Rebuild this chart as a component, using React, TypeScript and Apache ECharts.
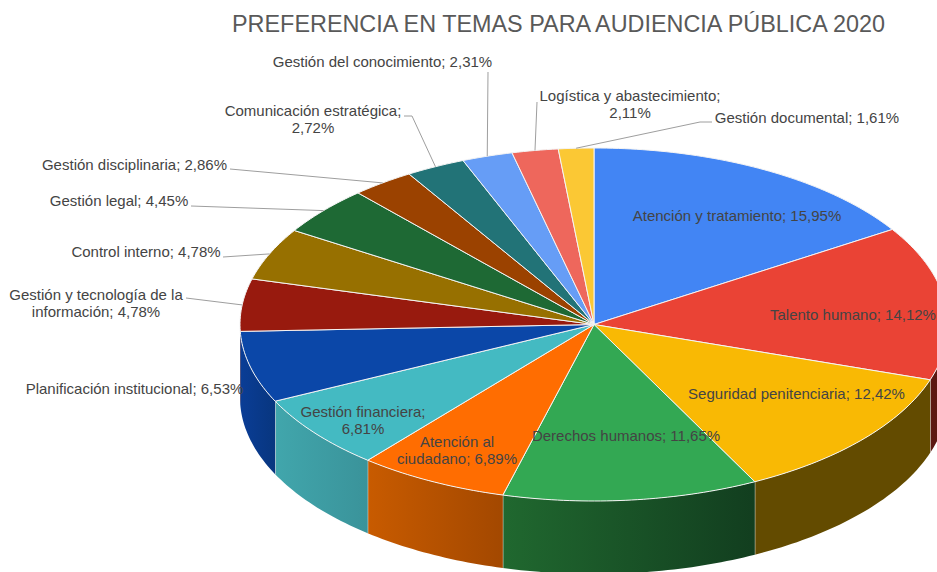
import React, { useEffect, useRef } from "react";
import * as echarts from "echarts";

const names = [
  "Atención y tratamiento",
  "Talento humano",
  "Seguridad penitenciaria",
  "Derechos humanos",
  "Atención al\nciudadano",
  "Gestión financiera",
  "Planificación institucional",
  "Gestión y tecnología de la\ninformación",
  "Control interno",
  "Gestión legal",
  "Gestión disciplinaria",
  "Comunicación estratégica",
  "Gestión del conocimiento",
  "Logística y abastecimiento",
  "Gestión documental",
];
const values = [15.95, 14.12, 12.42, 11.65, 6.89, 6.81, 6.53, 4.78, 4.78, 4.45, 2.86, 2.72, 2.31, 2.11, 1.61];
const separators = [" ", " ", " ", " ", " ", "\n", " ", " ", " ", " ", " ", "\n", " ", "\n", " "];

const topColors = [
  "#4285f4", "#ea4335", "#f9b904", "#33a853", "#ff6d01", "#44bac2", "#0b47a8", "#981a0e",
  "#977000", "#1e6934", "#9b4200", "#227377", "#669df6", "#ee675c", "#fbc834",
];
const sideColors: (string[] | null)[] = [
  ["#20487f", "#20487f"], ["#5c1812", "#5a1712"], ["#634b00", "#634b00"], ["#20682f", "#123e1f"],
  ["#c85b00", "#a34800"], ["#41a6ac", "#3a939a"], ["#0a3d96", "#08367f"], ["#5c100a", "#5c100a"],
  null, null, null, null, null, null, null,
];

// Layout of the ellipse and of the labels (not data).
const CX = 594, CY = 324.5, RX = 354, RY = 176.5, DEPTH = 73;
const FONT = '15px "Liberation Sans", Arial, sans-serif';
const TEXT = "#444444";
// [x of anchor, y of first line, align]
const labelPos: [number, number, string][] = [
  [737, 216, "center"], [770, 315, "left"], [796.5, 394, "center"], [626, 436, "center"],
  [457, 442, "center"], [363, 412, "center"], [134.5, 389, "center"], [96, 295, "center"],
  [146, 252, "center"], [119, 201, "center"], [134.5, 165, "center"], [313, 111, "center"],
  [382.5, 62, "center"], [630, 96, "center"], [807, 118, "center"],
];
// Leader start and optional elbow; null when the label sits on its slice.
const leaders: (number[][] | null)[] = [
  null, null, null, null, null, null, null,
  [[186, 298]], [[223, 257]], [[191, 206]], [[230, 169]], [[404, 116], [412, 116]],
  [[488, 72]], [[537, 102]], [[712, 122], [700, 122]],
];

const total = values.reduce((a, b) => a + b, 0);
const cum: number[] = [0];
values.forEach((v) => cum.push(cum[cum.length - 1] + v));
const deg = (i: number) => (cum[i] / total) * 360;
const pt = (d: number, dy = 0): number[] => {
  const r = (d * Math.PI) / 180;
  return [CX + RX * Math.sin(r), CY - RY * Math.cos(r) + dy];
};
const arc = (a: number, b: number, dy = 0): number[][] => {
  const out: number[][] = [];
  const n = Math.max(2, Math.ceil(Math.abs(b - a)));
  for (let k = 0; k <= n; k++) out.push(pt(a + ((b - a) * k) / n, dy));
  return out;
};
const idx = values.map((_, i) => i);

function renderSide(params: any) {
  const i = params.dataIndex;
  const colors = sideColors[i];
  const a = Math.max(deg(i), 90), b = Math.min(deg(i + 1), 270);
  if (!colors || b <= a) return { type: "group", children: [] };
  const top = arc(a, b), bottom = arc(b, a, DEPTH);
  const children: any[] = [
    {
      type: "polygon",
      shape: { points: [...top, ...bottom] },
      style: {
        fill: {
          type: "linear", x: 0, y: 0, x2: 1, y2: 0,
          colorStops: [{ offset: 0, color: colors[0] }, { offset: 1, color: colors[1] }],
        },
      },
    },
  ];
  if (deg(i + 1) < 265) {
    const p = pt(deg(i + 1));
    children.push({
      type: "line",
      shape: { x1: p[0], y1: p[1], x2: p[0], y2: p[1] + DEPTH },
      style: { stroke: "#e8e8e8", lineWidth: 1 },
    });
  }
  return { type: "group", children };
}

function renderTop(params: any) {
  const i = params.dataIndex;
  return {
    type: "polygon",
    shape: { points: [[CX, CY], ...arc(deg(i), deg(i + 1))] },
    style: { fill: topColors[i], stroke: "#f4f4f4", lineWidth: 1 },
  };
}

function renderLabel(params: any) {
  const i = params.dataIndex;
  const [x, y, align] = labelPos[i];
  const text = `${names[i]};${separators[i]}${values[i].toFixed(2).replace(".", ",")}%`;
  const children: any[] = [
    {
      type: "text",
      x,
      y: y - 9.5,
      style: { text, fill: TEXT, font: FONT, textAlign: align, textVerticalAlign: "top", lineHeight: 17.5 },
    },
  ];
  const lead = leaders[i];
  if (lead) {
    const end = pt((deg(i) + deg(i + 1)) / 2);
    children.push({
      type: "polyline",
      shape: { points: [...lead, end] },
      style: { stroke: "#9e9e9e", lineWidth: 1, fill: "none" },
    });
  }
  return { type: "group", children };
}

export default function App() {
  const ref = useRef<HTMLDivElement>(null);
  useEffect(() => {
    if (!ref.current) return;
    const chart = echarts.init(ref.current, undefined, { renderer: "svg" });
    const base = { type: "custom", coordinateSystem: "none", silent: true, clip: false, data: idx };
    chart.setOption({
      animation: false,
      backgroundColor: "#ffffff",
      title: {
        text: "PREFERENCIA EN TEMAS PARA AUDIENCIA PÚBLICA 2020",
        left: 232,
        top: 12,
        padding: 0,
        textStyle: { fontFamily: '"Liberation Sans", Arial, sans-serif', fontSize: 23.4, fontWeight: "normal", color: "#595959" },
      },
      series: [
        { ...base, z: 1, renderItem: renderSide },
        { ...base, z: 2, renderItem: renderTop },
        { ...base, z: 3, renderItem: renderLabel },
      ],
    } as any);
    return () => chart.dispose();
  }, []);
  return <div ref={ref} style={{ position: "fixed", left: 0, top: 0, width: 937, height: 572 }} />;
}
